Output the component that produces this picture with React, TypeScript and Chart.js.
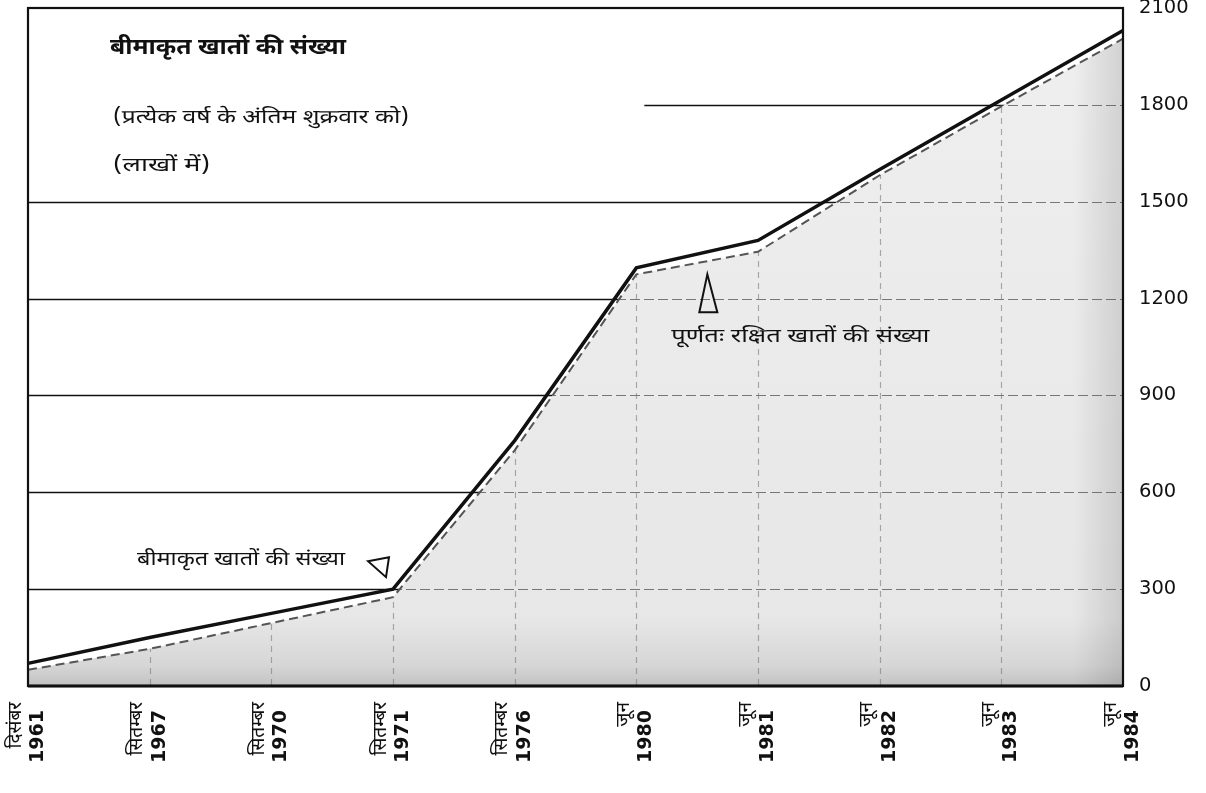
import React, { useEffect, useRef } from 'react';
import { Chart, registerables } from 'chart.js';

Chart.register(...registerables);

// ---- data ----
const months = ['दिसंबर', 'सितम्बर', 'सितम्बर', 'सितम्बर', 'सितम्बर', 'जून', 'जून', 'जून', 'जून', 'जून'];
const years = ['1961', '1967', '1970', '1971', '1976', '1980', '1981', '1982', '1983', '1984'];
const insuredAccounts = [70, 150, 225, 300, 760, 1295, 1380, 1600, 1815, 2030];
const protectedAccounts = [50, 115, 195, 275, 730, 1275, 1345, 1582, 1795, 2005];
const yTickValues = [0, 300, 600, 900, 1200, 1500, 1800, 2100];

const titleText = 'बीमाकृत खातों की संख्या';
const subtitleText = '(प्रत्येक वर्ष के अंतिम शुक्रवार को)';
const unitText = '(लाखों में)';
const insuredLabel = 'बीमाकृत खातों की संख्या';
const protectedLabel = 'पूर्णतः रक्षित खातों की संख्या';

const DEV = '"Noto Sans Devanagari", "Lohit Devanagari", "Noto Sans", FreeSans, sans-serif';

function fitText(ctx: CanvasRenderingContext2D, text: string, x: number, y: number, width: number, font: string) {
  ctx.save();
  ctx.font = font;
  ctx.textAlign = 'left';
  ctx.textBaseline = 'middle';
  const w = ctx.measureText(text).width || 1;
  ctx.translate(x, y);
  ctx.scale(width / w, 1);
  ctx.fillText(text, 0, 0);
  ctx.restore();
}

export default function App() {
  const ref = useRef<HTMLCanvasElement>(null);

  useEffect(() => {
    document.body.style.margin = '0';
    const canvas = ref.current;
    if (!canvas) return;

    const scanPlugin = {
      id: 'scanStyle',
      beforeDraw(chart: any) {
        const { ctx, chartArea: a, scales } = chart;
        const x = scales.x, y = scales.y;
        ctx.save();
        ctx.fillStyle = '#ffffff';
        ctx.fillRect(0, 0, chart.width, chart.height);
        ctx.strokeStyle = '#111';
        ctx.lineWidth = 1.6;
        for (const v of yTickValues) {
          if (v <= 0 || v >= 2100) continue;
          const py = Math.round(y.getPixelForValue(v)) + 0.5;
          const sx = v === 1800 ? x.getPixelForValue(5) + 8 : a.left;
          ctx.beginPath();
          ctx.moveTo(sx, py);
          ctx.lineTo(a.right, py);
          ctx.stroke();
        }
        ctx.restore();
      },
      beforeDatasetsDraw(chart: any) {
        const { ctx, chartArea: a, scales } = chart;
        const x = scales.x, y = scales.y;
        const meta = chart.getDatasetMeta(1);
        ctx.save();
        ctx.beginPath();
        meta.data.forEach((p: any, i: number) => (i ? ctx.lineTo(p.x, p.y) : ctx.moveTo(p.x, p.y)));
        ctx.lineTo(a.right, a.bottom);
        ctx.lineTo(a.left, a.bottom);
        ctx.closePath();
        ctx.clip();
        const g = ctx.createLinearGradient(a.right - 50, 0, a.right, 0);
        g.addColorStop(0, 'rgba(0,0,0,0)');
        g.addColorStop(1, 'rgba(0,0,0,0.12)');
        ctx.fillStyle = g;
        ctx.fillRect(a.right - 50, a.top, 50, a.height);
        ctx.strokeStyle = 'rgba(80,80,80,0.75)';
        ctx.lineWidth = 1.2;
        ctx.setLineDash([10, 4]);
        for (const v of yTickValues) {
          if (v <= 0 || v >= 2100) continue;
          const py = Math.round(y.getPixelForValue(v)) + 0.5;
          ctx.beginPath();
          ctx.moveTo(a.left, py);
          ctx.lineTo(a.right, py);
          ctx.stroke();
        }
        ctx.strokeStyle = 'rgba(120,120,120,0.6)';
        ctx.setLineDash([6, 5]);
        for (let i = 1; i < years.length - 1; i++) {
          const px = Math.round(x.getPixelForValue(i)) + 0.5;
          ctx.beginPath();
          ctx.moveTo(px, a.top);
          ctx.lineTo(px, a.bottom);
          ctx.stroke();
        }
        ctx.restore();
      },
      afterDraw(chart: any) {
        const { ctx, chartArea: a, scales } = chart;
        const x = scales.x, y = scales.y;
        ctx.save();
        // frame
        ctx.strokeStyle = '#111';
        ctx.lineWidth = 2.2;
        ctx.strokeRect(a.left, a.top, a.right - a.left, a.bottom - a.top);
        ctx.lineWidth = 3;
        ctx.beginPath();
        ctx.moveTo(a.left, a.bottom);
        ctx.lineTo(a.right, a.bottom);
        ctx.stroke();

        // texts
        ctx.fillStyle = '#111';
        fitText(ctx, titleText, a.left + 82, a.top + 42, 236, `bold 22px ${DEV}`);
        fitText(ctx, subtitleText, a.left + 85, a.top + 111, 296, `19px ${DEV}`);
        fitText(ctx, unitText, a.left + 85, a.top + 159, 97, `19px ${DEV}`);

        const p3x = x.getPixelForValue(3), p3y = y.getPixelForValue(insuredAccounts[3]);
        fitText(ctx, insuredLabel, p3x - 256, p3y - 28, 208, `19px ${DEV}`);
        const p5x = x.getPixelForValue(5), p5y = y.getPixelForValue(protectedAccounts[5]);
        fitText(ctx, protectedLabel, p5x + 35, p5y + 64, 258, `19px ${DEV}`);

        // triangles
        ctx.strokeStyle = '#111';
        ctx.lineWidth = 2;
        ctx.lineJoin = 'miter';
        ctx.beginPath();
        ctx.moveTo(p3x - 25, p3y - 28);
        ctx.lineTo(p3x - 4, p3y - 32);
        ctx.lineTo(p3x - 7, p3y - 12);
        ctx.closePath();
        ctx.stroke();
        ctx.beginPath();
        ctx.moveTo(p5x + 71, p5y);
        ctx.lineTo(p5x + 63, p5y + 38);
        ctx.lineTo(p5x + 81, p5y + 38);
        ctx.closePath();
        ctx.stroke();

        // x labels (rotated, two lines)
        const top = a.bottom + 16;
        for (let i = 0; i < years.length; i++) {
          const px = x.getPixelForValue(i);
          ctx.save();
          ctx.translate(px, top);
          ctx.rotate(-Math.PI / 2);
          ctx.textAlign = 'right';
          ctx.textBaseline = 'middle';
          ctx.font = `19px ${DEV}`;
          ctx.fillText(months[i], 0, -11);
          ctx.font = `bold 19px "DejaVu Sans", sans-serif`;
          ctx.fillText(years[i], -8, 10);
          ctx.restore();
        }
        ctx.restore();
      },
    };

    const chart = new Chart(canvas, {
      type: 'line',
      data: {
        labels: years,
        datasets: [
          {
            label: insuredLabel,
            data: insuredAccounts,
            borderColor: '#111',
            borderWidth: 3.5,
            pointRadius: 0,
            fill: false,
            tension: 0,
          },
          {
            label: protectedLabel,
            data: protectedAccounts,
            borderColor: '#555',
            borderWidth: 2,
            borderDash: [9, 5],
            pointRadius: 0,
            tension: 0,
            fill: 'origin',
            backgroundColor: (c: any) => {
              const ch = c.chart;
              const ar = ch.chartArea;
              if (!ar) return '#e8e8e8';
              const g = ch.ctx.createLinearGradient(0, ar.top, 0, ar.bottom);
              g.addColorStop(0, '#efefef');
              g.addColorStop(0.9, '#e7e7e7');
              g.addColorStop(0.97, '#d6d6d6');
              g.addColorStop(1, '#c2c2c2');
              return g;
            },
          },
        ],
      },
      options: {
        animation: false,
        responsive: false,
        maintainAspectRatio: false,
        layout: { padding: { left: 28, top: 8, right: 0, bottom: 107 } },
        plugins: {
          legend: { display: false },
          tooltip: { enabled: false },
          filler: { drawTime: 'beforeDatasetsDraw' },
        },
        scales: {
          x: { type: 'category', display: false, offset: false },
          y: {
            position: 'right',
            min: 0,
            max: 2100,
            afterFit: (s: any) => {
              s.width = 83;
              s.paddingTop = 0;
              s.paddingBottom = 0;
            },
            afterBuildTicks: (s: any) => {
              s.ticks = yTickValues.map((v) => ({ value: v }));
            },
            grid: { display: false, drawTicks: false },
            border: { display: false },
            ticks: {
              padding: 16,
              color: '#111',
              font: { family: '"DejaVu Sans", sans-serif', size: 19.5 },
              callback: (v: any) => String(v),
            },
          },
        },
      } as any,
      plugins: [scanPlugin],
    });

    return () => chart.destroy();
  }, []);

  return (
    <div style={{ width: 1206, height: 793 }}>
      <canvas ref={ref} width={1206} height={793} style={{ display: 'block' }} />
    </div>
  );
}
